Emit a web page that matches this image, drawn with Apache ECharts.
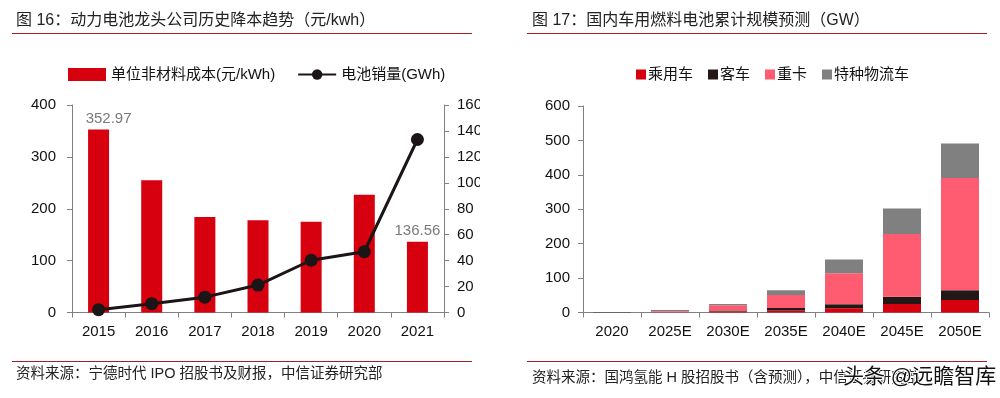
<!DOCTYPE html>
<html><head><meta charset="utf-8">
<script src="https://cdn.jsdelivr.net/npm/echarts@6/dist/echarts.min.js"></script>
<style>
html,body{margin:0;padding:0;background:#fff;}
#wrap{position:relative;width:1000px;height:398px;overflow:hidden;}
#c1{position:absolute;left:0;top:0;width:480px;height:398px;}
#c2{position:absolute;left:500px;top:0;width:500px;height:398px;}
</style></head>
<body><div id="wrap"><div id="c1"></div><div id="c2"></div></div>
<script>
// ---- Left chart data ----
const years = ['2015','2016','2017','2018','2019','2020','2021'];
const nonMaterialCost = [352.97, 255, 184, 178, 175, 227, 136.56];
const batterySales = [2.19, 6.8, 11.84, 21.18, 40.28, 46.84, 133.41];
const leftTicks = [0, 100, 200, 300, 400];
const rightTicks = [0, 20, 40, 60, 80, 100, 120, 140, 160];

// ---- Right chart data ----
const periods = ['2020','2025E','2030E','2035E','2040E','2045E','2050E'];
const passenger = [0.2, 0.5, 3, 6, 12, 25, 36];
const bus = [0.2, 0.5, 3, 7, 12, 21, 29];
const heavyTruck = [0.2, 2.5, 15, 38, 90, 182, 326];
const specialLogistics = [0.2, 3.5, 4, 14, 40, 74, 100];
const rightChartTicks = [0, 100, 200, 300, 400, 500, 600];

const FONT = '"Liberation Sans", "Noto Sans CJK SC", sans-serif';
const AX = '#808080';
const TITLE_RED = '#a31f24';

function axisBase() {
  return {
    axisLine: {show: true, lineStyle: {color: AX, width: 1}},
    axisTick: {show: true, length: 5, lineStyle: {color: AX}},
    splitLine: {show: false},
    axisLabel: {color: '#111', fontSize: 15, fontFamily: FONT}
  };
}

const c1 = echarts.init(document.getElementById('c1'), null, {renderer: 'canvas'});
c1.setOption({
  animation: false,
  textStyle: {fontFamily: FONT},
  graphic: [
    {type: 'text', left: 16, top: 13, style: {text: '图 16：动力电池龙头公司历史降本趋势（元/kwh）', font: '16px ' + FONT, fill: '#222'}},
    {type: 'line', shape: {x1: 12, y1: 33.5, x2: 472, y2: 33.5}, style: {stroke: TITLE_RED, lineWidth: 1.2}},
    {type: 'line', shape: {x1: 12, y1: 361.5, x2: 472, y2: 361.5}, style: {stroke: TITLE_RED, lineWidth: 1.2}},
    {type: 'text', left: 16, top: 367, style: {text: '资料来源：宁德时代 IPO 招股书及财报，中信证券研究部', font: '14.5px ' + FONT, fill: '#222'}}
  ],
  legend: {
    left: 63, top: 62, itemWidth: 38, itemHeight: 13, itemGap: 22,
    textStyle: {fontSize: 15, color: '#111', fontFamily: FONT},
    data: [{name: '单位非材料成本(元/kWh)', icon: 'rect'}, {name: '电池销量(GWh)'}]
  },
  grid: {left: 72, right: 36, top: 105, bottom: 85.5, containLabel: false, outerBoundsMode: 'none'},
  xAxis: Object.assign(axisBase(), {
    type: 'category', data: years, boundaryGap: true,
    axisTick: {show: true, length: 5, alignWithLabel: false, lineStyle: {color: AX}},
    axisLabel: {color: '#111', fontSize: 15, fontFamily: FONT, margin: 12}
  }),
  yAxis: [
    Object.assign(axisBase(), {type: 'value', min: leftTicks[0], max: leftTicks[leftTicks.length-1], interval: leftTicks[1]-leftTicks[0],
      axisLabel: {color: '#111', fontSize: 15, fontFamily: FONT, margin: 16}}),
    Object.assign(axisBase(), {type: 'value', position: 'right', min: rightTicks[0], max: rightTicks[rightTicks.length-1], interval: rightTicks[1]-rightTicks[0],
      axisLabel: {color: '#111', fontSize: 15, fontFamily: FONT, margin: 13}})
  ],
  series: [
    {
      name: '单位非材料成本(元/kWh)', type: 'bar', barWidth: 21,
      itemStyle: {color: '#d7000f'},
      data: nonMaterialCost.map((v, i) => ({
        value: v,
        label: {show: i === 0 || i === nonMaterialCost.length - 1, position: 'top', distance: 3,
          offset: i === 0 ? [10, 0] : [0, 0],
          color: '#7a7a7a', fontSize: 15, fontFamily: FONT, formatter: p => p.value.toFixed(2)}
      }))
    },
    {
      name: '电池销量(GWh)', type: 'line', yAxisIndex: 1, data: batterySales,
      symbol: 'circle', symbolSize: 13,
      lineStyle: {color: '#1c1515', width: 3}, itemStyle: {color: '#1c1515'}
    }
  ]
});

const c2 = echarts.init(document.getElementById('c2'), null, {renderer: 'canvas'});
const stackColors = ['#d7000f', '#231815', '#ff5c72', '#808080'];
const stackNames = ['乘用车', '客车', '重卡', '特种物流车'];
const stackData = [passenger, bus, heavyTruck, specialLogistics];
c2.setOption({
  animation: false,
  textStyle: {fontFamily: FONT},
  graphic: [
    {type: 'text', left: 32, top: 13, style: {text: '图 17：国内车用燃料电池累计规模预测（GW）', font: '16px ' + FONT, fill: '#222'}},
    {type: 'line', shape: {x1: 27, y1: 33.5, x2: 487, y2: 33.5}, style: {stroke: TITLE_RED, lineWidth: 1.2}},
    {type: 'line', shape: {x1: 27, y1: 361.5, x2: 487, y2: 361.5}, style: {stroke: TITLE_RED, lineWidth: 1.2}},
    {type: 'text', left: 32, top: 371, style: {text: '资料来源：国鸿氢能 H 股招股书（含预测），中信证券研究部', font: '14.5px ' + FONT, fill: '#222'}},
    {type: 'text', left: 342, top: 366, z: 100, style: {text: '头条 @远瞻智库', font: '21px ' + FONT, fill: '#111', stroke: '#fff', lineWidth: 2}}
  ],
  legend: {
    left: 131, top: 62, itemWidth: 10, itemHeight: 10, itemGap: 15,
    textStyle: {fontSize: 15, color: '#111', fontFamily: FONT, padding: [0, 0, 0, -3]},
    data: stackNames.map(n => ({name: n, icon: 'rect'}))
  },
  grid: {left: 83, right: 11, top: 106, bottom: 85.5, containLabel: false, outerBoundsMode: 'none'},
  xAxis: Object.assign(axisBase(), {
    type: 'category', data: periods, boundaryGap: true,
    axisTick: {show: true, length: 5, alignWithLabel: false, lineStyle: {color: AX}},
    axisLabel: {color: '#111', fontSize: 15, fontFamily: FONT, margin: 12}
  }),
  yAxis: Object.assign(axisBase(), {type: 'value', min: rightChartTicks[0], max: rightChartTicks[rightChartTicks.length-1], interval: rightChartTicks[1]-rightChartTicks[0],
    axisLabel: {color: '#111', fontSize: 15, fontFamily: FONT, margin: 13}}),
  series: stackNames.map((n, k) => ({
    name: n, type: 'bar', stack: 'total', barWidth: 38,
    itemStyle: {color: stackColors[k]}, data: stackData[k]
  }))
});
</script></body></html>
